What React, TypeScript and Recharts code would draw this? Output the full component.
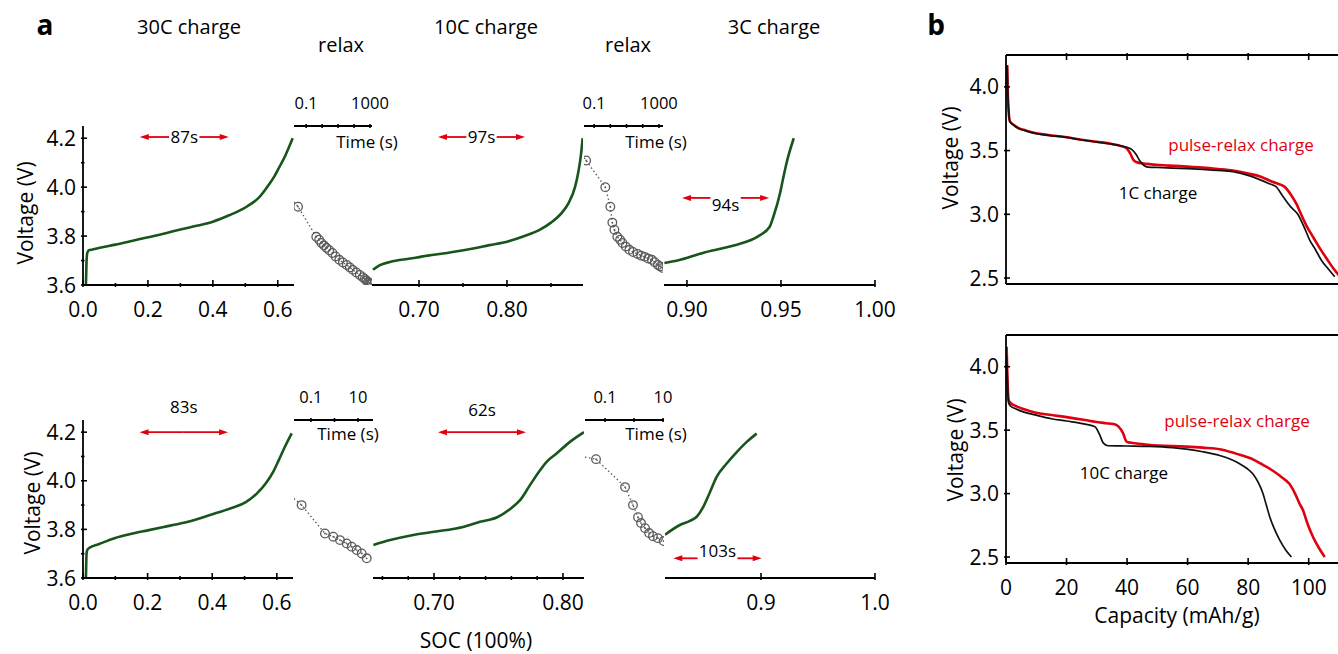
import React from "react";
import { LineChart, Line, XAxis, YAxis, ReferenceLine } from "recharts";

type P = [number, number];
const rows = (a: P[]) => a.map(([x, y]) => ({ x, y }));

// ---------- panel a : charge curves (SOC, V) ----------
const topCharge30C: P[] = [
  [0.009, 3.6], [0.01, 3.65], [0.011, 3.7], [0.013, 3.73], [0.018, 3.742], [0.03, 3.745],
  [0.052, 3.752], [0.1, 3.765], [0.15, 3.78], [0.2, 3.795], [0.258, 3.813], [0.3, 3.827],
  [0.35, 3.842], [0.4, 3.859], [0.45, 3.885], [0.504, 3.92], [0.54, 3.955], [0.566, 3.998],
  [0.59, 4.045], [0.606, 4.085], [0.62, 4.12], [0.635, 4.165], [0.646, 4.2],
];
const topCharge10C: P[] = [
  [0.6477, 3.662], [0.655, 3.68], [0.667, 3.694], [0.69, 3.708], [0.71, 3.72], [0.732, 3.731],
  [0.76, 3.748], [0.78, 3.763], [0.8, 3.777], [0.82, 3.8], [0.8375, 3.826], [0.85, 3.855],
  [0.8625, 3.896], [0.87, 3.935], [0.8773, 4.0], [0.881, 4.06], [0.884, 4.13], [0.886, 4.2],
];
const topCharge3C: P[] = [
  [0.888, 3.69], [0.895, 3.7], [0.9085, 3.731], [0.92, 3.752], [0.9265, 3.765], [0.938, 3.8],
  [0.944, 3.838], [0.946, 3.88], [0.9495, 3.975], [0.951, 4.03], [0.953, 4.1], [0.9568, 4.2],
];
const botCharge30C: P[] = [
  [0.009, 3.6], [0.01, 3.66], [0.011, 3.7], [0.013, 3.715], [0.02, 3.724], [0.05, 3.74],
  [0.1, 3.765], [0.154, 3.783], [0.2, 3.796], [0.25, 3.81], [0.308, 3.826], [0.36, 3.845],
  [0.412, 3.867], [0.46, 3.888], [0.504, 3.912], [0.54, 3.95], [0.566, 3.99], [0.59, 4.04],
  [0.606, 4.085], [0.625, 4.14], [0.646, 4.195],
];
const botCharge10C: P[] = [
  [0.653, 3.736], [0.666, 3.756], [0.684, 3.777], [0.7, 3.79], [0.7225, 3.81], [0.7356, 3.831],
  [0.749, 3.85], [0.7612, 3.893], [0.7667, 3.92], [0.7744, 3.982], [0.7822, 4.043],
  [0.7873, 4.078], [0.795, 4.112], [0.8054, 4.16], [0.8163, 4.2],
];
const botCharge3C: P[] = [
  [0.8158, 3.778], [0.8289, 3.818], [0.8377, 3.835], [0.8436, 3.852], [0.8494, 3.893],
  [0.8553, 3.954], [0.8611, 4.016], [0.8699, 4.071], [0.8787, 4.118], [0.8875, 4.16],
  [0.8962, 4.194],
];

// ---------- panel a : relax points (time s, V); first entry has no marker ----------
const topRelax1: P[] = [
  [0.0175, 3.94], [0.031, 3.92], [0.43, 3.797], [0.65, 3.785], [0.9, 3.772], [1.3, 3.762],
  [1.86, 3.752], [2.8, 3.742], [4.4, 3.731], [7, 3.717], [12, 3.703], [20, 3.692], [35, 3.682],
  [55, 3.672], [83, 3.662], [140, 3.651], [230, 3.641], [350, 3.632], [480, 3.625], [600, 3.618],
  [750, 3.612], [900, 3.609], [1100, 3.606], [1300, 3.604],
];
const topRelax2: P[] = [
  [0.024, 4.12], [0.032, 4.109], [0.49, 4.0], [1.0, 3.92], [1.33, 3.855], [1.78, 3.826],
  [2.7, 3.797], [4, 3.785], [5.6, 3.772], [9, 3.757], [15, 3.744], [25, 3.735], [48, 3.727],
  [80, 3.72], [133, 3.715], [220, 3.708], [365, 3.703], [550, 3.693], [870, 3.682],
  [1200, 3.676], [1700, 3.67],
];
const botRelax1: P[] = [
  [0.019, 3.927], [0.04, 3.9], [0.394, 3.783], [0.89, 3.77], [1.71, 3.756], [3.3, 3.742],
  [5.4, 3.729], [8.8, 3.715], [14.4, 3.701], [23.5, 3.681],
];
const botRelax2: P[] = [
  [0.0204, 4.097], [0.049, 4.089], [0.49, 3.974], [0.92, 3.9], [1.37, 3.85], [1.74, 3.826],
  [2.4, 3.805], [3.3, 3.785], [4.5, 3.772], [6.7, 3.764], [10.5, 3.752],
];

// ---------- panel b : capacity (mAh/g, V) ----------
const cap1C: P[] = [
  [0.4, 4.17], [0.6, 3.95], [0.9, 3.8], [1.3, 3.727], [2.5, 3.7], [4, 3.675], [6.5, 3.655],
  [9.6, 3.635], [14, 3.62], [19.5, 3.605], [25, 3.583], [30, 3.567], [35, 3.55], [38, 3.538],
  [40, 3.525], [41.5, 3.51], [43, 3.47], [44.2, 3.42], [45.5, 3.385], [47, 3.37], [50, 3.367],
  [55, 3.363], [60, 3.358], [65, 3.352], [70, 3.345], [75, 3.335], [80, 3.305], [84, 3.27],
  [87, 3.24], [89.2, 3.217], [91.5, 3.14], [94, 3.06], [96.4, 3.0], [98.5, 2.9], [100.3, 2.8],
  [102.3, 2.72], [104.2, 2.64], [106.5, 2.57], [108.6, 2.51],
];
const capPulse1: P[] = [
  [0.4, 4.17], [0.6, 3.95], [0.9, 3.8], [1.3, 3.73], [2.5, 3.702], [4, 3.678], [6.5, 3.658],
  [9.6, 3.638], [14, 3.622], [19.5, 3.607], [25, 3.585], [30, 3.569], [35, 3.552], [38, 3.535],
  [40, 3.515], [41, 3.48], [42, 3.43], [43, 3.41], [45, 3.4], [48, 3.392], [52, 3.385],
  [56, 3.38], [60, 3.374], [65, 3.367], [70, 3.356], [75, 3.343], [80, 3.32], [84.2, 3.295],
  [88, 3.255], [92, 3.217], [94.5, 3.14], [96, 3.08], [97.5, 3.0], [99.5, 2.9], [101.5, 2.82],
  [103.5, 2.74], [106.3, 2.64], [108, 2.58], [110, 2.52],
];
const cap10C: P[] = [
  [0.2, 4.09], [0.4, 3.95], [0.6, 3.8], [0.8, 3.72], [1.5, 3.69], [3, 3.67], [6, 3.642],
  [9.6, 3.62], [15, 3.59], [20, 3.572], [26.1, 3.548], [29.4, 3.527], [31, 3.46], [32.1, 3.4],
  [33.8, 3.377], [40, 3.375], [47.5, 3.372], [55, 3.362], [59.6, 3.35], [65, 3.33], [70.6, 3.3],
  [74, 3.272], [77.2, 3.235], [79.5, 3.2], [81.6, 3.155], [83.3, 3.09], [84.9, 3.0], [86, 2.91],
  [87.1, 2.82], [88.7, 2.72], [90.4, 2.636], [92.3, 2.56], [94.3, 2.5],
];
const capPulse10: P[] = [
  [0.2, 4.157], [0.4, 3.98], [0.6, 3.83], [0.9, 3.737], [1.5, 3.715], [3, 3.693], [6, 3.665],
  [9.6, 3.64], [15, 3.619], [20, 3.603], [26.1, 3.58], [29.4, 3.566], [33, 3.555], [35.5, 3.548],
  [37.1, 3.53], [38.7, 3.475], [39.8, 3.41], [41.5, 3.4], [45, 3.39], [48.6, 3.38], [55, 3.375],
  [59.6, 3.37], [65, 3.362], [70.6, 3.35], [76, 3.315], [81.6, 3.27], [85, 3.225], [88.2, 3.18],
  [91, 3.13], [93.7, 3.075], [95.5, 3.0], [97, 2.92], [98.1, 2.87], [99.5, 2.77], [101.4, 2.66],
  [103.3, 2.575], [105.3, 2.5],
];

// ---------- ticks ----------
const vTicks = [3.6, 3.7, 3.8, 3.9, 4.0, 4.1, 4.2];
const vMajors = [3.6, 3.8, 4.0, 4.2];
const socTicks1 = [0, 0.1, 0.2, 0.3, 0.4, 0.5, 0.6];
const socMajors1 = [0, 0.2, 0.4, 0.6];
const socTicksTop2 = [0.7, 0.75, 0.8, 0.85];
const socTicksTop3 = [0.9, 0.95, 1.0];
const socTicksBot2 = [0.66, 0.68, 0.7, 0.72, 0.74, 0.76, 0.78, 0.8];
const socTicksBot3 = [0.9, 1.0];
const socMajors2 = [0.7, 0.8];
const timeTicksLong = [0.1, 1, 10, 100, 1000];
const timeTicksShort = [0.1, 1, 10];
const capTicks = [0, 20, 40, 60, 80, 100];
const capVTicks = [2.5, 3.0, 3.5, 4.0];

// ---------- duration arrows ----------
type Arrow = { from: number; to: number; v: number; label: string; dy: number; gap: boolean };
const arrowTop1: Arrow = { from: 0.175, to: 0.449, v: 4.205, label: "87s", dy: 6, gap: true };
const arrowTop2: Arrow = { from: 0.7216, to: 0.8205, v: 4.205, label: "97s", dy: 6, gap: true };
const arrowTop3: Arrow = { from: 0.8974, to: 0.9437, v: 3.956, label: "94s", dy: 13, gap: true };
const arrowBot1: Arrow = { from: 0.175, to: 0.449, v: 4.2, label: "83s", dy: -19, gap: false };
const arrowBot2: Arrow = { from: 0.7031, to: 0.7713, v: 4.2, label: "62s", dy: -16, gap: false };
const arrowBot3: Arrow = { from: 0.8231, to: 0.9006, v: 3.681, label: "103s", dy: -1, gap: true };

const FONT = "'Open Sans', sans-serif";
const GREEN = "#17561b";
const RED = "#e1000f";
const GREY = "#5a5a5a";
const AXIS = { stroke: "#000", strokeWidth: 1.8 };
const V_DOMAIN: [number, number] = [3.6, 4.25];
const PAD = 40;

type Rect = { x0: number; x1: number; y0: number; y1: number };

const near = (list: number[], v: number) => list.some((m) => Math.abs(m - v) < 1e-9);

const bottomTick = (majors: number[], fmt: (v: number) => string, dy = 30) => (p: any) => {
  const { x, y, payload } = p;
  const major = near(majors, payload.value);
  return (
    <g>
      <line x1={x} y1={y} x2={x} y2={y - (major ? 7 : 4)} stroke="#000" strokeWidth={1.6} />
      {major && (
        <text x={x} y={y + dy} textAnchor="middle" fontSize={21} fill="#000">
          {fmt(payload.value)}
        </text>
      )}
    </g>
  );
};

const leftTick = (majors: number[], fmt: (v: number) => string) => (p: any) => {
  const { x, y, payload } = p;
  const major = near(majors, payload.value);
  return (
    <g>
      <line x1={x} y1={y} x2={x + (major ? 6 : 3.5)} y2={y} stroke="#000" strokeWidth={1.6} />
      {major && (
        <text x={x - 5} y={y} dy="0.36em" textAnchor="end" fontSize={21} fill="#000">
          {fmt(payload.value)}
        </text>
      )}
    </g>
  );
};

const topTick = (labeled: number[], len = 4) => (p: any) => {
  const { x, y, payload } = p;
  return (
    <g>
      <line x1={x} y1={y} x2={x} y2={y + len} stroke="#000" strokeWidth={1.6} />
      {near(labeled, payload.value) && (
        <text x={x} y={y - 15} textAnchor="middle" fontSize={16.5} fill="#000">
          {String(payload.value)}
        </text>
      )}
    </g>
  );
};

const ringDot = (p: any) => {
  const { cx, cy, index } = p;
  if (index === 0 || cx == null) return <g key={`d${index}`} />;
  return (
    <g key={`d${index}`}>
      <circle cx={cx} cy={cy} r={4.3} fill="none" stroke={GREY} strokeWidth={1.3} />
      <circle cx={cx} cy={cy} r={0.9} fill={GREY} />
    </g>
  );
};

const arrowShape = (a: Arrow) => (p: any) => {
  const { x1, x2, y1 } = p;
  const y = y1;
  const mid = (x1 + x2) / 2;
  const w = a.label.length * 9.6 - 1.5;
  const half = a.gap ? w / 2 + 1.5 : 0;
  return (
    <g>
      <line x1={x1 + 4} y1={y} x2={mid - half} y2={y} stroke={RED} strokeWidth={1.8} />
      <line x1={mid + half} y1={y} x2={x2 - 4} y2={y} stroke={RED} strokeWidth={1.8} />
      <polygon points={`${x1},${y} ${x1 + 9},${y - 3} ${x1 + 9},${y + 3}`} fill={RED} />
      <polygon points={`${x2},${y} ${x2 - 9},${y - 3} ${x2 - 9},${y + 3}`} fill={RED} />
      <text x={mid} y={y + a.dy} textAnchor="middle" fontSize={17} fill="#000">
        {a.label}
      </text>
    </g>
  );
};

// axes are 1px thick bands (zero-size axes are not drawn), so the margin
// on a side that carries an axis is reduced by that 1px
function Panel(props: {
  r: Rect;
  top?: boolean;
  bottom?: boolean;
  left?: boolean;
  children: React.ReactNode;
}) {
  const { r, top, bottom, left, children } = props;
  return (
    <div style={{ position: "absolute", left: r.x0 - PAD, top: r.y0 - PAD }}>
      <LineChart
        width={r.x1 - r.x0 + 2 * PAD}
        height={r.y1 - r.y0 + 2 * PAD}
        margin={{
          top: PAD - (top ? 1 : 0),
          right: PAD,
          bottom: PAD - (bottom ? 1 : 0),
          left: PAD - (left ? 1 : 0),
        }}
      >
        {children}
      </LineChart>
    </div>
  );
}

function SocSegment(props: {
  r: Rect;
  domain: [number, number];
  ticks: number[];
  majors: number[];
  digits: number;
  curve: P[];
  arrow: Arrow;
  withY?: boolean;
}) {
  const { r, domain, ticks, majors, digits, curve, arrow, withY } = props;
  return (
    <Panel r={r} bottom left={withY}>
      <XAxis
        type="number"
        dataKey="x"
        domain={domain}
        allowDataOverflow
        ticks={ticks}
        interval={0}
        tickSize={0}
        tickLine={false}
        height={1}
        axisLine={AXIS}
        tick={bottomTick(majors, (v) => v.toFixed(digits))}
      />
      <YAxis
        type="number"
        domain={V_DOMAIN}
        allowDataOverflow
        hide={!withY}
        width={1}
        ticks={vTicks}
        interval={0}
        tickSize={0}
        tickLine={false}
        axisLine={AXIS}
        tick={leftTick(vMajors, (v) => v.toFixed(1))}
      />
      <Line
        data={rows(curve)}
        dataKey="y"
        type="monotone"
        stroke={GREEN}
        strokeWidth={2.6}
        dot={false}
        isAnimationActive={false}
      />
      <ReferenceLine
        segment={[{ x: arrow.from, y: arrow.v }, { x: arrow.to, y: arrow.v }]}
        ifOverflow="visible"
        shape={arrowShape(arrow)}
      />
    </Panel>
  );
}

function RelaxInset(props: { r: Rect; domain: [number, number]; ticks: number[]; pts: P[] }) {
  const { r, domain, ticks, pts } = props;
  return (
    <Panel r={r} top>
      <XAxis
        type="number"
        dataKey="x"
        scale="log"
        domain={domain}
        allowDataOverflow
        orientation="top"
        ticks={ticks}
        interval={0}
        tickSize={0}
        tickLine={false}
        height={1}
        axisLine={AXIS}
        tick={topTick([ticks[0], ticks[ticks.length - 1]])}
      />
      <YAxis type="number" domain={V_DOMAIN} allowDataOverflow hide />
      <Line
        data={rows(pts)}
        dataKey="y"
        type="linear"
        stroke={GREY}
        strokeWidth={1.4}
        strokeDasharray="1.4 2.6"
        dot={ringDot}
        isAnimationActive={false}
      />
    </Panel>
  );
}

function CapacityPanel(props: { r: Rect; pulse: P[]; plain: P[]; labelled: boolean }) {
  const { r, pulse, plain, labelled } = props;
  const capDomain: [number, number] = [0, 112];
  return (
    <Panel r={r} top bottom left>
      <XAxis
        xAxisId="b"
        type="number"
        dataKey="x"
        domain={capDomain}
        allowDataOverflow
        ticks={capTicks}
        interval={0}
        tickSize={0}
        tickLine={false}
        height={1}
        axisLine={AXIS}
        tick={labelled ? bottomTick(capTicks, (v) => String(v), 30) : false}
      />
      <XAxis
        xAxisId="t"
        orientation="top"
        type="number"
        dataKey="x"
        domain={capDomain}
        allowDataOverflow
        ticks={capTicks.slice(1)}
        interval={0}
        tickSize={0}
        tickLine={false}
        height={1}
        axisLine={AXIS}
        tick={labelled ? false : topTick([], 7)}
      />
      <YAxis
        type="number"
        domain={[2.453, 4.25]}
        allowDataOverflow
        width={1}
        ticks={capVTicks}
        interval={0}
        tickSize={0}
        tickLine={false}
        axisLine={AXIS}
        tick={leftTick(capVTicks, (v) => v.toFixed(1))}
      />
      <Line
        xAxisId="b"
        data={rows(pulse)}
        dataKey="y"
        type="monotone"
        stroke={RED}
        strokeWidth={2.6}
        dot={false}
        isAnimationActive={false}
      />
      <Line
        xAxisId="b"
        data={rows(plain)}
        dataKey="y"
        type="monotone"
        stroke="#111"
        strokeWidth={1.7}
        dot={false}
        isAnimationActive={false}
      />
    </Panel>
  );
}

function Txt(props: {
  x: number;
  y: number;
  size: number;
  children: React.ReactNode;
  color?: string;
  bold?: boolean;
  rotate?: boolean;
}) {
  const { x, y, size, children, color = "#000", bold, rotate } = props;
  return (
    <div
      style={{
        position: "absolute",
        left: x,
        top: y,
        transform: `translate(-50%, -50%)${rotate ? " rotate(-90deg)" : ""}`,
        fontSize: size,
        lineHeight: 1,
        whiteSpace: "nowrap",
        color,
        fontWeight: bold ? 700 : 400,
      }}
    >
      {children}
    </div>
  );
}

export default function App() {
  const T = { y0: 126, y1: 285 };
  const B = { y0: 420, y1: 578 };
  return (
    <div
      style={{
        position: "absolute",
        left: 0,
        top: 0,
        width: 1338,
        height: 654,
        overflow: "hidden",
        background: "#fff",
        fontFamily: FONT,
        color: "#000",
      }}
    >
      {/* panel a, top row */}
      <SocSegment r={{ x0: 83, x1: 294, ...T }} domain={[0, 0.65]} ticks={socTicks1} majors={socMajors1} digits={1} curve={topCharge30C} arrow={arrowTop1} withY />
      <RelaxInset r={{ x0: 294, x1: 372, ...T }} domain={[0.0173, 1340]} ticks={timeTicksLong} pts={topRelax1} />
      <SocSegment r={{ x0: 372, x1: 583, ...T }} domain={[0.6466, 0.8864]} ticks={socTicksTop2} majors={socMajors2} digits={2} curve={topCharge10C} arrow={arrowTop2} />
      <RelaxInset r={{ x0: 584, x1: 663, ...T }} domain={[0.0237, 1778]} ticks={timeTicksLong} pts={topRelax2} />
      <SocSegment r={{ x0: 664, x1: 875, ...T }} domain={[0.8878, 1.0]} ticks={socTicksTop3} majors={socTicksTop3} digits={2} curve={topCharge3C} arrow={arrowTop3} />

      {/* panel a, bottom row */}
      <SocSegment r={{ x0: 83, x1: 293, ...B }} domain={[0, 0.65]} ticks={socTicks1} majors={socMajors1} digits={1} curve={botCharge30C} arrow={arrowBot1} withY />
      <RelaxInset r={{ x0: 294, x1: 373, ...B }} domain={[0.019, 43.5]} ticks={timeTicksShort} pts={botRelax1} />
      <SocSegment r={{ x0: 373, x1: 584, ...B }} domain={[0.6527, 0.8163]} ticks={socTicksBot2} majors={socMajors2} digits={2} curve={botCharge10C} arrow={arrowBot2} />
      <RelaxInset r={{ x0: 585, x1: 664, ...B }} domain={[0.0204, 10.8]} ticks={timeTicksShort} pts={botRelax2} />
      <SocSegment r={{ x0: 665, x1: 875, ...B }} domain={[0.8158, 1.0]} ticks={socTicksBot3} majors={socTicksBot3} digits={1} curve={botCharge3C} arrow={arrowBot3} />

      {/* panel b */}
      <CapacityPanel r={{ x0: 1006, x1: 1345, y0: 55, y1: 284 }} pulse={capPulse1} plain={cap1C} labelled={false} />
      <CapacityPanel r={{ x0: 1006, x1: 1345, y0: 335, y1: 563 }} pulse={capPulse10} plain={cap10C} labelled />

      {/* text */}
      <Txt x={45} y={24} size={28} bold>a</Txt>
      <Txt x={936} y={24} size={28} bold>b</Txt>
      <Txt x={189} y={27} size={20}>30C charge</Txt>
      <Txt x={341} y={45} size={20}>relax</Txt>
      <Txt x={486} y={27} size={20}>10C charge</Txt>
      <Txt x={628} y={45} size={20}>relax</Txt>
      <Txt x={774} y={27} size={20}>3C charge</Txt>
      <Txt x={367} y={141} size={17}>Time (s)</Txt>
      <Txt x={656} y={141} size={17}>Time (s)</Txt>
      <Txt x={348} y={433} size={17}>Time (s)</Txt>
      <Txt x={656} y={433} size={17}>Time (s)</Txt>
      <Txt x={25} y={213} size={21} rotate>Voltage (V)</Txt>
      <Txt x={32} y={503} size={21} rotate>Voltage (V)</Txt>
      <Txt x={476} y={640} size={21}>SOC (100%)</Txt>
      <Txt x={950} y={158} size={21} rotate>Voltage (V)</Txt>
      <Txt x={955} y={450} size={21} rotate>Voltage (V)</Txt>
      <Txt x={1177} y={615} size={21}>Capacity (mAh/g)</Txt>
      <Txt x={1241} y={144} size={17} color={RED}>pulse-relax charge</Txt>
      <Txt x={1237} y={420} size={17} color={RED}>pulse-relax charge</Txt>
      <Txt x={1158} y={192} size={17}>1C charge</Txt>
      <Txt x={1124} y={472} size={17}>10C charge</Txt>
    </div>
  );
}
